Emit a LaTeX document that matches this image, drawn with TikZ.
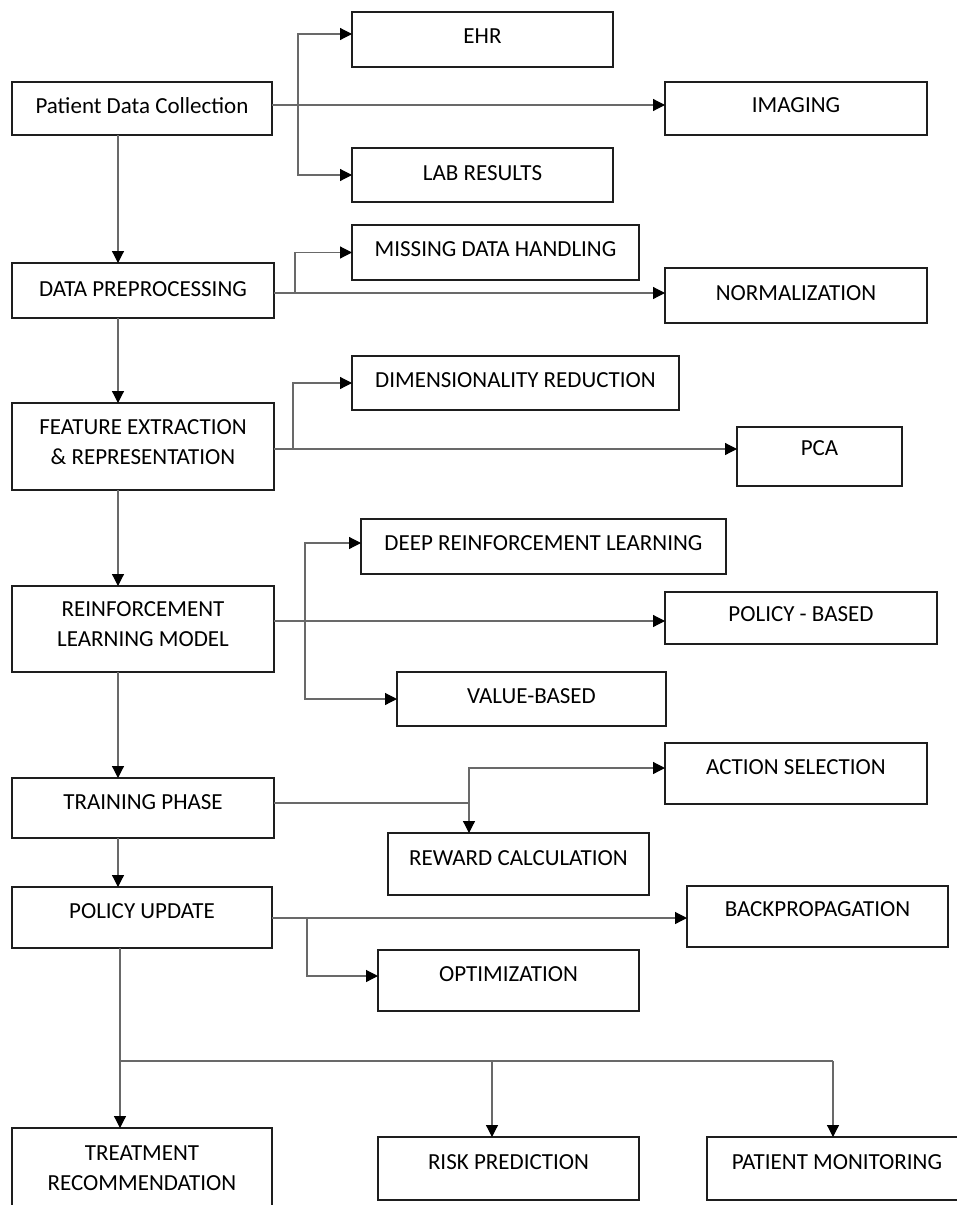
\documentclass[tikz,border=0pt]{standalone}
\usepackage{fontspec}
\setmainfont{Carlito}
\usetikzlibrary{arrows.meta,calc}
\definecolor{conngray}{RGB}{105,105,105}
\definecolor{boxline}{RGB}{30,30,30}
\begin{document}
\begin{tikzpicture}[x=1pt,y=-1pt,
  box/.style={draw=boxline, line width=2.2pt, inner sep=0pt, outer sep=0pt,
    font=\fontsize{23}{30}\selectfont, text height=15pt, align=center},
  twoline/.style={text height=45pt},
  conn/.style={draw=conngray, line width=1.2pt},
  arr/.style={conn, -{Triangle[length=12pt,width=12pt,color=black]}}]
\useasboundingbox (0,0) rectangle (957,1205);
\clip (0,0) rectangle (957,1205);
\fill[white] (0,0) rectangle (957,1205);

% nodes
\node[box, minimum width=260pt, minimum height=53pt, text depth=6pt] (pdc) at (142,108.5) {Patient Data Collection};
\node[box, minimum width=261pt, minimum height=55pt, text depth=7pt] (ehr) at (482.5,39.5) {EHR};
\node[box, minimum width=262pt, minimum height=53pt, text depth=7pt] (img) at (796,108.5) {IMAGING};
\node[box, minimum width=261pt, minimum height=54pt, text depth=4pt] (lab) at (482.5,175) {LAB RESULTS};

\node[box, minimum width=262pt, minimum height=55pt, text depth=4pt] (dpp) at (143,290.5) {DATA PREPROCESSING};
\node[box, minimum width=287pt, minimum height=55pt, text depth=7pt] (mdh) at (495.5,252.5) {MISSING DATA HANDLING};
\node[box, minimum width=262pt, minimum height=55pt, text depth=6pt] (nrm) at (796,295.5) {NORMALIZATION};

\node[box, twoline, minimum width=262pt, minimum height=87pt, text depth=9pt] (fer) at (143,446.5) {FEATURE EXTRACTION\\\& REPRESENTATION};
\node[box, minimum width=327pt, minimum height=54pt, text depth=6pt] (dr) at (515.5,383) {DIMENSIONALITY REDUCTION};
\node[box, minimum width=165pt, minimum height=59pt, text depth=18pt] (pca) at (819.5,456.5) {PCA};

\node[box, twoline, minimum width=262pt, minimum height=86pt, text depth=10pt] (rlm) at (143,629) {REINFORCEMENT\\LEARNING MODEL};
\node[box, minimum width=365pt, minimum height=55pt, text depth=7pt] (drl) at (543.5,546.5) {DEEP REINFORCEMENT LEARNING};
\node[box, minimum width=272pt, minimum height=52pt, text depth=8pt] (pol) at (801,618) {POLICY - BASED};
\node[box, minimum width=269pt, minimum height=54pt, text depth=6pt] (val) at (531.5,699) {VALUE-BASED};

\node[box, minimum width=262pt, minimum height=60pt, text depth=12pt] (trn) at (143,808) {TRAINING PHASE};
\node[box, minimum width=262pt, minimum height=61pt, text depth=14pt] (act) at (796,773.5) {ACTION SELECTION};
\node[box, minimum width=261pt, minimum height=62pt, text depth=12pt] (rew) at (518.5,864) {REWARD CALCULATION};

\node[box, minimum width=260pt, minimum height=61pt, text depth=13pt] (pup) at (142,917.5) {POLICY UPDATE};
\node[box, minimum width=261pt, minimum height=61pt, text depth=15pt] (bkp) at (817.5,916.5) {BACKPROPAGATION};
\node[box, minimum width=261pt, minimum height=61pt, text depth=13pt] (opt) at (508.5,980.5) {OPTIMIZATION};

\node[box, twoline, minimum width=260pt, minimum height=86pt, text depth=6pt] (trt) at (142,1171) {TREATMENT\\RECOMMENDATION};
\node[box, minimum width=261pt, minimum height=63pt, text depth=13pt] (rsk) at (508.5,1168.5) {RISK PREDICTION};
\node[box, minimum width=260pt, minimum height=63pt, text depth=13pt] (pmn) at (837,1168.5) {PATIENT MONITORING};

% helper coordinates
\coordinate (xv) at (118,0);
\coordinate (xw) at (120,0);
\coordinate (b1) at (298,105);
\coordinate (b2) at (295,293);
\coordinate (b3) at (293,449);
\coordinate (b4) at (305,621);
\coordinate (b5) at (469,803);
\coordinate (b6) at (307,918);
\coordinate (b7) at (120,1061);
\coordinate (b8) at (492,1061);
\coordinate (b9) at (833,1061);

% connectors
\draw[arr] (pdc.east |- b1) -- (img.west |- b1);
\draw[arr] (b1) |- ([yshift=5.5pt]ehr.west);
\draw[arr] (b1) |- (lab.west);
\draw[arr] (pdc.south -| xv) -- (dpp.north -| xv);

\draw[arr] (dpp.east |- b2) -- (nrm.west |- b2);
\draw[arr] (b2) |- (mdh.west);
\draw[arr] (dpp.south -| xv) -- (fer.north -| xv);

\draw[arr] (fer.east |- b3) -- (pca.west |- b3);
\draw[arr] (b3) |- (dr.west);
\draw[arr] (fer.south -| xv) -- (rlm.north -| xv);

\draw[arr] (rlm.east |- b4) -- (pol.west |- b4);
\draw[arr] (b4) |- ([yshift=3.5pt]drl.west);
\draw[arr] (b4) |- (val.west);
\draw[arr] (rlm.south -| xv) -- (trn.north -| xv);

\draw[conn] (trn.east |- b5) -- (b5);
\draw[arr] (b5) |- ([yshift=5.5pt]act.west);
\draw[arr] (b5) -- (rew.north -| b5);
\draw[arr] (trn.south -| xv) -- (pup.north -| xv);

\draw[arr] (pup.east |- b6) -- (bkp.west |- b6);
\draw[arr] (b6) |- ([yshift=4.5pt]opt.west);

\draw[arr] (pup.south -| xw) -- (trt.north -| xw);
\draw[conn] (b7) -- (b9);
\draw[arr] (b8) -- (rsk.north -| b8);
\draw[arr] (b9) -- (pmn.north -| b9);
\end{tikzpicture}
\end{document}
